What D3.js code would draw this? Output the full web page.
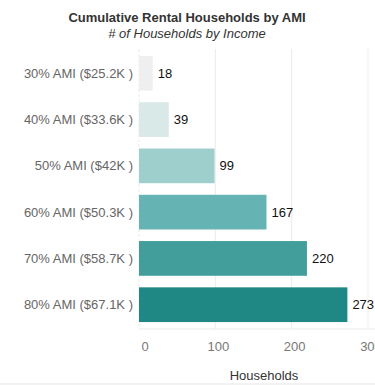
<!DOCTYPE html>
<html>
<head>
<meta charset="utf-8">
<script src="https://cdn.jsdelivr.net/npm/d3@7.9.0/dist/d3.min.js"></script>
<style>
  body { margin: 0; background: #fff; }
  svg { font-family: "Liberation Sans", Arial, sans-serif; }
</style>
</head>
<body>
<svg id="chart" width="375" height="385"></svg>
<script>
const categories = ['30% AMI ($25.2K )', '40% AMI ($33.6K )', '50% AMI ($42K )', '60% AMI ($50.3K )', '70% AMI ($58.7K )', '80% AMI ($67.1K )'];
const households = [18, 39, 99, 167, 220, 273];
const barColors = ['#efefef', '#d9e9e8', '#9ecfcd', '#66b3b3', '#419e9b', '#1f8784'];
const xTicks = [0, 100, 200, 300];

const svg = d3.select('#chart');
const margin = { top: 49, left: 139, right: 7, bottom: 56 };
const height = 385 - margin.top - margin.bottom;

const x = d3.scaleLinear().domain([0, 300]).range([0, 229]);
const y = d3.scaleBand().domain(categories).range([0, height]).paddingInner(0.25).paddingOuter(0.15);

const g = svg.append('g').attr('transform', `translate(${margin.left},${margin.top})`);

// bottom strip
svg.append('rect').attr('x', 0).attr('y', 383).attr('width', 375).attr('height', 2).attr('fill', '#f2f2f2');

// title
svg.append('text').attr('x', 187).attr('y', 22).attr('text-anchor', 'middle')
  .style('font-size', '13px').style('font-weight', 'bold').attr('fill', '#333')
  .text('Cumulative Rental Households by AMI');
svg.append('text').attr('x', 187).attr('y', 38).attr('text-anchor', 'middle')
  .style('font-size', '13px').style('font-style', 'italic').attr('fill', '#333')
  .text('# of Households by Income');

// grid
g.selectAll('.grid').data(xTicks).join('line')
  .attr('x1', d => x(d)).attr('x2', d => x(d))
  .attr('y1', 0).attr('y2', height)
  .attr('stroke', '#ebebeb').attr('stroke-width', 1)
  .attr('stroke-dasharray', d => d === 0 ? '3,2' : null);
g.append('line').attr('x1', 0).attr('x2', x(300) + 10).attr('y1', height).attr('y2', height)
  .attr('stroke', '#ebebeb');

// bars
g.selectAll('.bar').data(households).join('rect')
  .attr('x', x(0)).attr('y', (d, i) => y(categories[i]))
  .attr('width', d => x(d) - x(0)).attr('height', y.bandwidth())
  .attr('fill', (d, i) => barColors[i]);

g.selectAll('.val').data(households).join('text')
  .attr('x', d => x(d) + 5).attr('y', (d, i) => y(categories[i]) + y.bandwidth() / 2)
  .attr('dy', '0.35em').style('font-size', '13px').attr('fill', '#111')
  .text(d => d);

// y labels
g.selectAll('.cat').data(categories).join('text')
  .attr('x', -6).attr('y', d => y(d) + y.bandwidth() / 2)
  .attr('dy', '0.35em').attr('text-anchor', 'end')
  .style('font-size', '13px').attr('fill', '#666')
  .text(d => d);

// x ticks
g.selectAll('.tick').data(xTicks).join('text')
  .attr('x', d => x(d) + (d === 0 ? 6 : 3)).attr('y', height + 22)
  .attr('text-anchor', 'middle').style('font-size', '13px').attr('fill', '#777')
  .text(d => d);

svg.append('text').attr('x', 264).attr('y', 380)
  .attr('text-anchor', 'middle').style('font-size', '13px').attr('fill', '#333')
  .text('Households');
</script>
</body>
</html>
